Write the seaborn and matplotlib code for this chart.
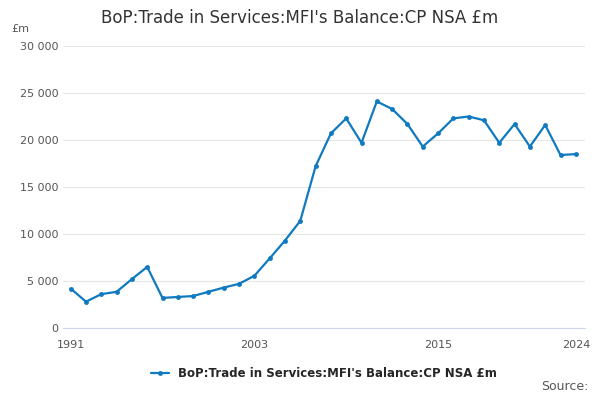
import matplotlib
matplotlib.use("Agg")
import matplotlib.pyplot as plt
import pandas as pd
import seaborn as sns
from matplotlib.ticker import FuncFormatter

years = list(range(1991, 2025))
values = [4200, 2800, 3600, 3850, 5200, 6500, 3200, 3300, 3400, 3850,
          4300, 4700, 5550, 7400, 9300, 11400, 17200, 20700, 22300, 19700,
          24100, 23300, 21700, 19300, 20700, 22300, 22500, 22100, 19700, 21700,
          19300, 21600, 18400, 18500]
series_name = "BoP:Trade in Services:MFI's Balance:CP NSA £m"
label_years = [1991, 2003, 2015, 2024]

df = pd.DataFrame({"year": years, "value": values})

sns.set_style("white")
plt.rcParams["font.family"] = ["DejaVu Sans"]
fig, ax = plt.subplots(figsize=(6, 4), dpi=100)
fig.subplots_adjust(left=0.105, right=0.975, top=0.885, bottom=0.18)

color = "#0f7ac0"
sns.lineplot(data=df, x="year", y="value", ax=ax, color=color, linewidth=1.6,
             marker="o", markersize=3.5, markeredgewidth=0, label=series_name)

ax.set_ylim(0, 30000)
ax.set_yticks(range(0, 30001, 5000))
ax.yaxis.set_major_formatter(FuncFormatter(lambda v, p: f"{int(v):,}".replace(",", " ")))
ax.set_xlim(1990.5, 2024.6)
ax.set_xticks(range(1991, 2025, 3), minor=True)
ax.set_xticks(label_years)
ax.tick_params(axis="x", which="both", length=5, color="#ccd6eb", labelsize=8, labelcolor="#555555")
ax.tick_params(axis="y", length=0, labelsize=8, labelcolor="#555555")
ax.grid(axis="y", color="#e6e6e6", linewidth=0.8)
for s in ["top", "right", "left"]:
    ax.spines[s].set_visible(False)
ax.spines["bottom"].set_color("#ccd6eb")
ax.set_xlabel("")
ax.set_ylabel("")

fig.text(0.5, 0.955, series_name, ha="center", va="center", fontsize=12, color="#333333")
fig.text(0.018, 0.92, "£m", fontsize=8, color="#555555")
ax.legend(loc="upper center", bbox_to_anchor=(0.5, -0.1), frameon=False,
          handlelength=1.5, prop={"weight": "bold", "size": 8.5})
fig.text(0.98, 0.025, "Source:", ha="right", fontsize=9, color="#555555")

fig.savefig("out.png", dpi=100)
